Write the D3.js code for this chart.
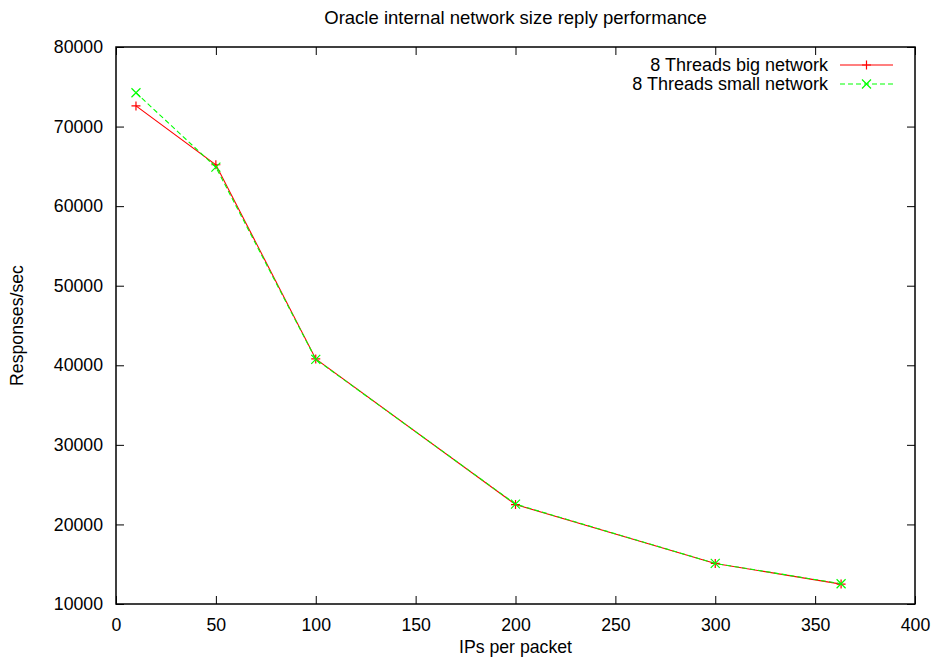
<!DOCTYPE html>
<html>
<head>
<meta charset="utf-8">
<script src="https://cdn.jsdelivr.net/npm/d3@7"></script>
<style>
    body { margin: 0; background: #fff; }
    text { font-family: "Liberation Sans", Arial, sans-serif; }
</style>
</head>
<body>
<div id="chart"></div>
<script>
// data
const ipsPerPacket = [10, 50, 100, 200, 300, 363];
const bigNetwork = [72600, 65200, 40800, 22500, 15100, 12500];
const smallNetwork = [74250, 64900, 40750, 22550, 15100, 12550];
const xTicks = [0, 50, 100, 150, 200, 250, 300, 350, 400];
const yTicks = [10000, 20000, 30000, 40000, 50000, 60000, 70000, 80000];

const seriesNames = ["8 Threads big network", "8 Threads small network"];

const width = 933, height = 658;
const margin = {top: 47, right: 18, bottom: 54, left: 116};

const svg = d3.select("#chart")
    .append("svg")
        .attr("width", width)
        .attr("height", height);

const x = d3.scaleLinear().domain([0, 400]).range([margin.left, width - margin.right]);
const y = d3.scaleLinear().domain([10000, 80000]).range([height - margin.bottom, margin.top]);

const fontSize = 17.7;

// axes, ticks point inward and mirror like gnuplot
svg.append("g")
    .attr("transform", `translate(0,${y(10000)})`)
    .call(d3.axisBottom(x).tickValues(xTicks).tickSize(-8).tickPadding(14))
    .call(g => g.select(".domain").remove());
svg.append("g")
    .attr("transform", `translate(0,${y(80000)})`)
    .call(d3.axisTop(x).tickValues(xTicks).tickSize(-8).tickFormat(""))
    .call(g => g.select(".domain").remove());
svg.append("g")
    .attr("transform", `translate(${x(0)},0)`)
    .call(d3.axisLeft(y).tickValues(yTicks).tickSize(-8).tickPadding(13).tickFormat(d3.format("d")))
    .call(g => g.select(".domain").remove());
svg.append("g")
    .attr("transform", `translate(${x(400)},0)`)
    .call(d3.axisRight(y).tickValues(yTicks).tickSize(-8).tickFormat(""))
    .call(g => g.select(".domain").remove());

svg.selectAll(".tick line").attr("stroke", "#000").attr("stroke-width", 1);
svg.selectAll(".tick text")
    .attr("font-size", fontSize)
    .attr("font-family", "Liberation Sans, Arial, sans-serif")
    .attr("fill", "#000");

// frame
svg.append("rect")
    .attr("x", x(0))
    .attr("y", y(80000))
    .attr("width", x(400) - x(0))
    .attr("height", y(10000) - y(80000))
    .attr("fill", "none")
    .attr("stroke", "#000")
    .attr("stroke-width", 1.5);

// titles
svg.append("text")
    .attr("x", (x(0) + x(400)) / 2)
    .attr("y", 24)
    .attr("text-anchor", "middle")
    .attr("font-size", 18.5)
    .text("Oracle internal network size reply performance");

svg.append("text")
    .attr("x", (x(0) + x(400)) / 2)
    .attr("y", 653)
    .attr("text-anchor", "middle")
    .attr("font-size", fontSize)
    .text("IPs per packet");

svg.append("text")
    .attr("transform", `translate(23,${(y(10000) + y(80000)) / 2}) rotate(-90)`)
    .attr("text-anchor", "middle")
    .attr("font-size", fontSize)
    .text("Responses/sec");

// series
const series = [
    {name: seriesNames[0], values: bigNetwork, colour: "#ff0000", dash: null, marker: "plus"},
    {name: seriesNames[1], values: smallNetwork, colour: "#00ff00", dash: "5,3", marker: "cross"}
];

const line = d3.line()
    .x((d, i) => x(ipsPerPacket[i]))
    .y(d => y(d));

function drawMarker(g, type, cx, cy, colour) {
    const s = 4.5;
    const path = type === "plus"
        ? `M${cx - s},${cy}L${cx + s},${cy}M${cx},${cy - s}L${cx},${cy + s}`
        : `M${cx - s},${cy - s}L${cx + s},${cy + s}M${cx - s},${cy + s}L${cx + s},${cy - s}`;
    g.append("path")
        .attr("d", path)
        .attr("stroke", colour)
        .attr("stroke-width", 1.2)
        .attr("fill", "none");
}

series.forEach(s => {
    const g = svg.append("g");
    g.append("path")
        .datum(s.values)
        .attr("d", line)
        .attr("fill", "none")
        .attr("stroke", s.colour)
        .attr("stroke-width", 1.1)
        .attr("stroke-dasharray", s.dash);
    s.values.forEach((v, i) => drawMarker(g, s.marker, x(ipsPerPacket[i]), y(v), s.colour));
});

// legend
const legend = svg.append("g");
series.forEach((s, i) => {
    const ly = 65 + i * 19;
    legend.append("text")
        .attr("x", 828)
        .attr("y", ly)
        .attr("dy", "0.35em")
        .attr("text-anchor", "end")
        .attr("font-size", 18)
        .text(s.name);
    legend.append("line")
        .attr("x1", 840).attr("x2", 893)
        .attr("y1", ly).attr("y2", ly)
        .attr("stroke", s.colour)
        .attr("stroke-width", 1.1)
        .attr("stroke-dasharray", s.dash);
    drawMarker(legend, s.marker, 866.5, ly, s.colour);
});
</script>
</body>
</html>
